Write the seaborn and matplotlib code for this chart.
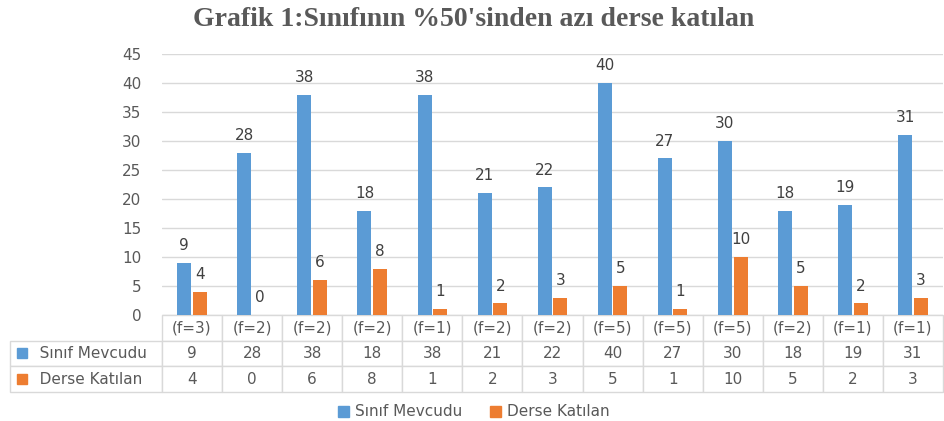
import seaborn as sns
import pandas as pd
import matplotlib.pyplot as plt
from matplotlib.patches import Patch

# data
groups = ['(f=3)', '(f=2)', '(f=2)', '(f=2)', '(f=1)', '(f=2)', '(f=2)',
          '(f=5)', '(f=5)', '(f=5)', '(f=2)', '(f=1)', '(f=1)']
sinif_mevcudu = [9, 28, 38, 18, 38, 21, 22, 40, 27, 30, 18, 19, 31]
derse_katilan = [4, 0, 6, 8, 1, 2, 3, 5, 1, 10, 5, 2, 3]
series_names = ['Sınıf Mevcudu', 'Derse Katılan']

palette = ['#5B9BD5', '#ED7D31']
grey = '#595959'

ids = [str(i) for i in range(len(groups))]
df = pd.DataFrame({'id': ids * 2,
                   'series': [series_names[0]] * len(ids) + [series_names[1]] * len(ids),
                   'value': sinif_mevcudu + derse_katilan})

sns.set_style("white")
plt.rcParams['font.family'] = ['DejaVu Sans']

fig = plt.figure(figsize=(9.44, 4.21), dpi=100)
ax = fig.add_axes([162 / 944, 1 - 315 / 421, 781 / 944, 261 / 421])

sns.barplot(data=df, x='id', y='value', hue='series', order=ids,
            palette=palette, width=0.52, gap=0.1, ax=ax, legend=False,
            saturation=1, linewidth=0)

for c in ax.containers:
    ax.bar_label(c, padding=7, fontsize=11, color='#404040')

ax.set_ylim(0, 45)
ax.set_yticks(range(0, 50, 5))
ax.yaxis.grid(True, color='#D9D9D9', lw=1)
ax.set_axisbelow(True)
ax.tick_params(axis='y', length=0, pad=15, labelsize=11, labelcolor=grey)
ax.set_xticks([])
ax.set_xlabel('')
ax.set_ylabel('')
sns.despine(ax=ax, left=True, bottom=True)
ax.set_xlim(-0.5, len(ids) - 0.5)

# data table under the bars
label_w = 152 / 781
cell_text = [[''] + groups,
             ['   ' + series_names[0]] + [str(v) for v in sinif_mevcudu],
             ['   ' + series_names[1]] + [str(v) for v in derse_katilan]]
col_w = [label_w] + [1 / len(ids)] * len(ids)
tab = ax.table(cellText=cell_text, colWidths=col_w, cellLoc='center',
               bbox=[-label_w, -77 / 261, 1 + label_w, 77 / 261])
tab.auto_set_font_size(False)
tab.set_fontsize(11)
for (r, c), cell in tab.get_celld().items():
    cell.set_edgecolor('#D9D9D9')
    cell.set_linewidth(1)
    cell.get_text().set_color(grey)
    if r == 0 and c == 0:
        cell.visible_edges = ''
    if c == 0 and r > 0:
        cell.get_text().set_ha('left')
        cell._loc = 'left'

# coloured keys in the row labels
for k, yy in enumerate([353, 379]):
    fig.patches.append(plt.Rectangle((17 / 944, 1 - (yy + 5) / 421), 10 / 944, 10 / 421,
                                     transform=fig.transFigure, color=palette[k]))

handles = [Patch(color=palette[0], label=series_names[0]),
           Patch(color=palette[1], label=series_names[1])]
leg = fig.legend(handles=handles, loc='center', bbox_to_anchor=(0.502, 1 - 412 / 421),
                 ncol=2, frameon=False, fontsize=11, handlelength=0.7, handleheight=0.7,
                 columnspacing=1.8, handletextpad=0.4)
for t in leg.get_texts():
    t.set_color(grey)

fig.suptitle("Grafik 1:Sınıfının %50'sinden azı derse katılan", x=0.502, y=1 - 19 / 421,
             va='center', fontsize=20, fontweight='bold', color=grey,
             family=['Liberation Serif'])

fig.savefig('out.png', dpi=100)
